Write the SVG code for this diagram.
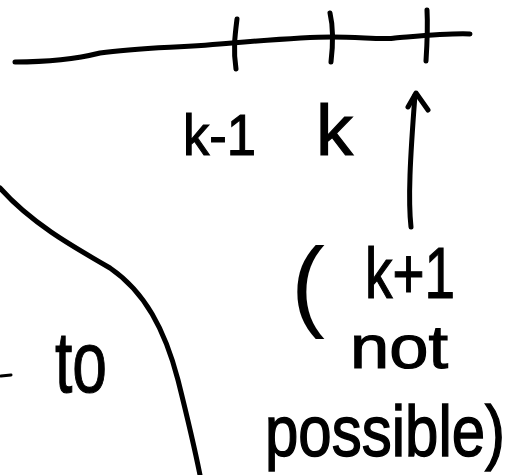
<svg xmlns="http://www.w3.org/2000/svg" width="514" height="475" viewBox="0 0 514 475">
<style>
.ink{fill:none;stroke:#000;stroke-width:5;stroke-linecap:round;stroke-linejoin:round}
.thin{fill:none;stroke:#000;stroke-width:3;stroke-linecap:round}
.hand{font-family:"Liberation Sans","DejaVu Sans",sans-serif;fill:#000;stroke:#000;stroke-width:1.2}
</style>
<rect width="514" height="475" fill="#fff"/>
<g id="axis">
<path class="ink" d="M15,62 C50,62 80,58 100,53 C140,47 180,48 232,43 C280,39 310,37 332,37 C360,37 385,40 395,38 C420,36 450,33 470,34"/>
<path class="ink" d="M237,19 C235,35 233,50 236,69"/>
<path class="ink" d="M330,13 C334,30 333,45 331,62"/>
<path class="ink" d="M427,10 C428,28 427,45 426,61"/>
</g>
<g id="labels-top">
<text class="hand" x="183" y="155" font-size="58" textLength="73" lengthAdjust="spacingAndGlyphs">k-1</text>
<text class="hand" x="316" y="155" font-size="72" textLength="37" lengthAdjust="spacingAndGlyphs">k</text>
</g>
<g id="connectors">
<path class="ink" d="M411,227 C408,200 410,160 415,95"/>
<path class="ink" d="M408,107 L416,93 L428,110"/>
</g>
<g id="boundary">
<path class="ink" d="M0,188 C30,222 70,245 110,268 C145,292 165,330 178,380 C188,420 195,450 200,475"/>
<path class="thin" d="M1,376 L11,375"/>
</g>
<g id="label-to">
<text class="hand" x="55" y="392" font-size="88" textLength="52" lengthAdjust="spacingAndGlyphs">to</text>
</g>
<g id="label-note">
<text class="hand" x="291" y="318" font-size="100" textLength="34" lengthAdjust="spacingAndGlyphs" style="stroke-width:0">(</text>
<text class="hand" x="365" y="298" font-size="72" textLength="90" lengthAdjust="spacingAndGlyphs">k+1</text>
<text class="hand" x="350" y="368" font-size="62" textLength="98" lengthAdjust="spacingAndGlyphs">not</text>
<text class="hand" transform="translate(265,456) scale(1,1.2)" x="0" y="0" font-size="60">possible)</text>
</g>
</svg>
